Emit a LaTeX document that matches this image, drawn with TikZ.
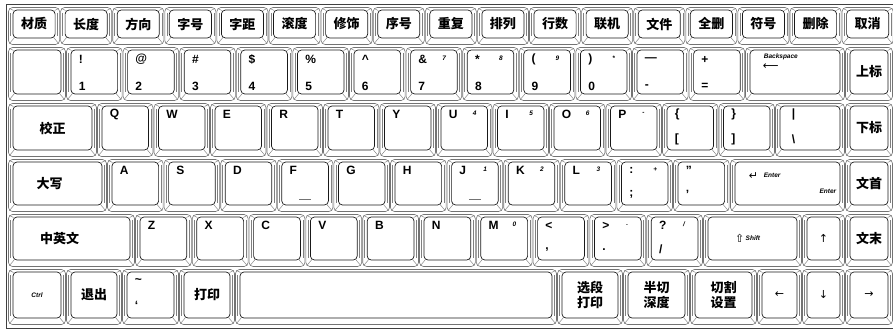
\documentclass[tikz,border=0pt]{standalone}
\usepackage{fontspec}
\setmainfont{Liberation Sans}
\newfontfamily\cjk{Noto Sans CJK SC}
\newfontfamily\symfont{DejaVu Sans}

% #1 name, #2 left, #3 top, #4 right, #5 bottom
\newcommand\keycap[5]{%
  \draw[KeyRim] (#2+.5,#3+.5) rectangle (#4-.5,#5-.5);
  \draw[KeyEdge] (#2+1.5,#3+1.5) -- (#2+5.5,#3+3.5) (#4-1.5,#3+1.5) -- (#4-5.5,#3+3.5)
                 (#2+1.5,#5-1.5) -- (#2+6.5,#5-7.5) (#4-1.5,#5-1.5) -- (#4-6.5,#5-7.5);
  \draw[KeyEdge] (#2+2.5,#3+6) -- (#2+2.5,#5-9) (#4-2.5,#3+6) -- (#4-2.5,#5-9);
  \node[KeyFace, minimum width={(#4)-(#2)-10}, minimum height={(#5)-(#3)-10}]
       (#1) at ({((#2)+(#4))/2},{((#3)+(#5))/2-2}) {};
}

\begin{document}
\begin{tikzpicture}[x=1pt,y=-1pt]
  \tikzset{KeyRim/.style = {draw=black!55, line width=.6pt, rounded corners=4pt},
           KeyFace/.style = {draw=black!90, line width=.7pt, rounded corners=4pt, inner sep=0pt},
           KeyEdge/.style = {draw=black!50, line width=.45pt},
           ZhLab/.style = {font=\cjk\bfseries\fontsize{13}{15}\selectfont, align=center},
           EnLab/.style = {font=\bfseries\fontsize{12}{12}\selectfont, anchor=west, inner sep=0pt},
           SmLab/.style = {font=\bfseries\itshape\fontsize{6.5}{7}\selectfont, anchor=west, inner sep=0pt},
           SymLab/.style = {font=\symfont\fontsize{11}{11}\selectfont, inner sep=0pt}}
  \useasboundingbox (0,0) rectangle (893,331);
  \draw[black!75, line width=.8pt] (6.5,4.5) rectangle (893,328.5);
  % function row
  \foreach \t [count=\i from 0] in {材质,长度,方向,字号,字距,滚度,修饰,序号,重复,排列,行数,联机,文件,全删,符号,删除,取消}{
    \keycap{f\i}{8+52.1*\i}{7}{60.1+52.1*\i}{45}
    \node[ZhLab] (f\i t) at (f\i) {\t};
  }
  % number row
  \keycap{blank}{8}{47}{66}{101}
  \foreach \u/\d/\s [count=\i from 0] in {!/1/,@/2/,\#/3/,\$/4/,\%/5/,\textasciicircum/6/,\&/7/7,*/8/8,{(}/9/9,{)}/0/*,—/-/,+/=/}{
    \keycap{n\i}{66+56.6*\i}{47}{122.6+56.6*\i}{101}
    \node[EnLab] (n\i u) at ([shift={(8,10)}]n\i.north west) {\u};
    \node[EnLab] (n\i d) at ([shift={(8,37)}]n\i.north west) {\d};
    \node[SmLab] (n\i s) at ([shift={(32,9)}]n\i.north west) {\s};
  }
  \keycap{bksp}{745}{47}{845}{101}
  \node[SmLab] (bksp t) at ([shift={(14,7)}]bksp.north west) {Backspace};
  \node[SymLab, anchor=west] (bksp a) at ([shift={(13,17)}]bksp.north west) {⟵};
  \keycap{sup}{845}{47}{893}{101}
  \node[ZhLab] (sup t) at (sup) {上标};
  % qwerty row
  \keycap{tab}{8}{103}{97}{157}
  \node[ZhLab] (tab t) at (tab) {校正};
  \foreach \u/\d/\s [count=\i from 0] in {Q//,W//,E//,R//,T//,Y//,U//4,I//5,O//6,P//-,\{/[/,\}/]/}{
    \keycap{q\i}{97+56.5*\i}{103}{153.5+56.5*\i}{157}
    \node[EnLab] (q\i u) at ([shift={(8,9)}]q\i.north west) {\u};
    \node[EnLab] (q\i d) at ([shift={(8,34)}]q\i.north west) {\d};
    \node[SmLab] (q\i s) at ([shift={(32,8)}]q\i.north west) {\s};
  }
  \keycap{bsl}{775}{103}{845}{157}
  \node[EnLab] (bsl u) at ([shift={(12,9)}]bsl.north west) {|};
  \node[EnLab] (bsl d) at ([shift={(12,34)}]bsl.north west) {\textbackslash};
  \keycap{sub}{845}{103}{893}{157}
  \node[ZhLab] (sub t) at (sub) {下标};
  % home row
  \keycap{caps}{8}{159}{107}{212}
  \node[ZhLab] (caps t) at ([xshift=-8]caps) {大写};
  \foreach \u/\d/\s [count=\i from 0] in {A//,S//,D//,F//,G//,H//,J//1,K//2,L//3,:/;/+,"/'/}{
    \keycap{a\i}{107+56.6*\i}{159}{163.6+56.6*\i}{212}
    \node[EnLab] (a\i u) at ([shift={(8,9)}]a\i.north west) {\u};
    \node[EnLab] (a\i d) at ([shift={(8,33)}]a\i.north west) {\d};
    \node[SmLab] (a\i s) at ([shift={(32,8)}]a\i.north west) {\s};
  }
  \foreach \k in {a3,a6}
    \draw[black!55, line width=1.2pt] ([shift={(-6,-6)}]\k.south) -- ([shift={(6,-6)}]\k.south);
  \keycap{enter}{730}{159}{845}{212}
  \node[SymLab, anchor=west] (enter a) at ([shift={(14,14)}]enter.north west) {↵};
  \node[SmLab] (enter t) at ([shift={(29,14)}]enter.north west) {Enter};
  \node[SmLab, anchor=east] (enter b) at ([shift={(-4,30)}]enter.north east) {Enter};
  \keycap{home}{845}{159}{893}{212}
  \node[ZhLab] (home t) at (home) {文首};
  % shift row
  \keycap{lang}{8}{214}{135}{267}
  \node[ZhLab] (lang t) at ([xshift=-12]lang) {中英文};
  \foreach \u/\d/\s [count=\i from 0] in {Z//,X//,C//,V//,B//,N//,M//0,</{,}/,>/./.,?/\slash/\slash}{
    \keycap{z\i}{135+56.8*\i}{214}{191.8+56.8*\i}{267}
    \node[EnLab] (z\i u) at ([shift={(8,9)}]z\i.north west) {\u};
    \node[EnLab] (z\i d) at ([shift={(8,33)}]z\i.north west) {\d};
    \node[SmLab] (z\i s) at ([shift={(32,8)}]z\i.north west) {\s};
  }
  \keycap{shift}{703}{214}{802}{267}
  \node[SymLab, anchor=east] (shift a) at ([xshift=-8]shift) {⇧};
  \node[SmLab, anchor=west] (shift t) at ([xshift=-7]shift) {Shift};
  \keycap{up}{802}{214}{845}{267}
  \node[SymLab] (up t) at (up) {↑};
  \keycap{end}{845}{214}{893}{267}
  \node[ZhLab] (end t) at (end) {文末};
  % bottom row
  \keycap{ctrl}{8}{269}{66}{325}
  \node[SmLab, anchor=center] (ctrl t) at (ctrl) {Ctrl};
  \keycap{esc}{66}{269}{122}{325}
  \node[ZhLab] (esc t) at (esc) {退出};
  \keycap{tilde}{122}{269}{179}{325}
  \node[EnLab] (tilde u) at ([shift={(8,9)}]tilde.north west) {\textasciitilde};
  \node[EnLab] (tilde d) at ([shift={(8,34)}]tilde.north west) {`};
  \keycap{prn}{179}{269}{235}{325}
  \node[ZhLab] (prn t) at (prn) {打印};
  \keycap{space}{235}{269}{557}{325}
  \keycap{selp}{557}{269}{623}{325}
  \node[ZhLab] (selp t) at (selp) {选段\\打印};
  \keycap{half}{623}{269}{690}{325}
  \node[ZhLab] (half t) at (half) {半切\\深度};
  \keycap{cut}{690}{269}{757}{325}
  \node[ZhLab] (cut t) at (cut) {切割\\设置};
  \keycap{left}{757}{269}{802}{325}
  \node[SymLab] (left t) at (left) {←};
  \keycap{down}{802}{269}{845}{325}
  \node[SymLab] (down t) at (down) {↓};
  \keycap{right}{845}{269}{893}{325}
  \node[SymLab] (right t) at (right) {→};
\end{tikzpicture}
\end{document}
